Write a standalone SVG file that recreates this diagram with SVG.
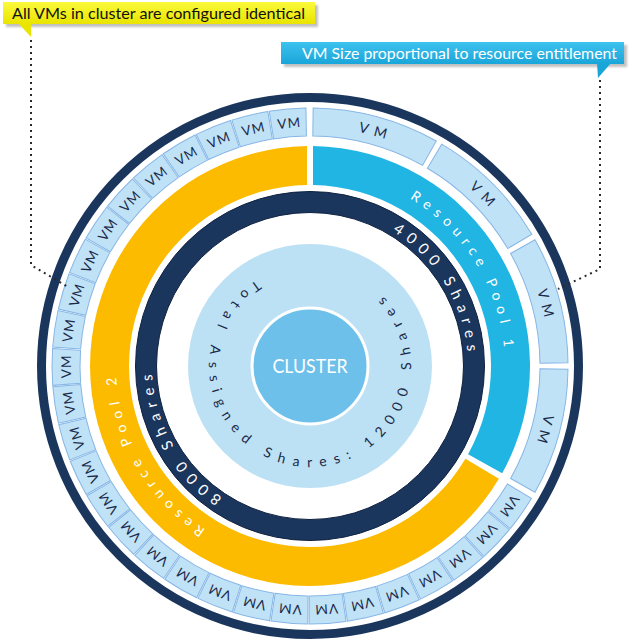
<svg xmlns="http://www.w3.org/2000/svg" xmlns:xlink="http://www.w3.org/1999/xlink" width="630" height="640" viewBox="0 0 630 640">
<style>
.ff{font-family:Lato,"Open Sans","Liberation Sans",sans-serif}
.vm{font-family:Lato,"Open Sans","Liberation Sans",sans-serif;font-size:13.5px;fill:#1b2a4a;text-anchor:middle;letter-spacing:1px}
.vmb{font-family:Lato,"Open Sans","Liberation Sans",sans-serif;font-size:14px;fill:#1b2a4a;text-anchor:middle;letter-spacing:6px}
.cell{fill:#c0e2f6;stroke:#86b6e6;stroke-width:1}
.arc{font-family:Lato,"Open Sans","Liberation Sans",sans-serif;fill:#ffffff;text-anchor:middle}
.dots{fill:none;stroke:#2a2a2a;stroke-width:2;stroke-dasharray:2 4;stroke-linecap:butt}
</style>
<defs>
<path id="cellS" d="M -18.45 -257.34 A 258 258 0 0 1 18.45 -257.34 L 16.45 -229.41 A 230 230 0 0 0 -16.45 -229.41 Z"/>
<path id="cellB" d="M -63.73 -250.01 A 258 258 0 0 1 63.73 -250.01 L 56.81 -222.87 A 230 230 0 0 0 -56.81 -222.87 Z"/>
<path id="p1" d="M -71.47 -181.43 A 195 195 0 0 1 129.21 146.05"/>
<path id="p2" d="M 64.76 182.87 A 194 194 0 0 1 -123.40 -149.69"/>
<path id="s1" d="M -55.98 -147.75 A 158 158 0 0 1 103.14 119.69"/>
<path id="s2" d="M 50.13 149.83 A 158 158 0 0 1 -98.36 -123.65"/>
<path id="tot" d="M -8.80 -100.62 A 101 101 0 1 0 26.14 -97.56"/>
<linearGradient id="gy" x1="0" y1="0" x2="0" y2="1"><stop offset="0" stop-color="#fbfa3c"/><stop offset="1" stop-color="#e9e400"/></linearGradient>
<linearGradient id="gb" x1="0" y1="0" x2="0" y2="1"><stop offset="0" stop-color="#3ec2ee"/><stop offset="1" stop-color="#1aa5d9"/></linearGradient>
<filter id="sh" x="-5%" y="-30%" width="115%" height="180%"><feGaussianBlur stdDeviation="1.2"/></filter>
</defs>
<rect width="630" height="640" fill="#ffffff"/>

<g transform="translate(310,366)">
  <g id="outer-ring"><circle r="268.5" fill="none" stroke="#1b365d" stroke-width="9"/></g>

  <g id="vm-big">
    <g id="vm-b1" transform="rotate(15)"><use xlink:href="#cellB" class="cell"/><text class="vmb" x="3" y="-239">VM</text></g>
    <g id="vm-b2" transform="rotate(45)"><use xlink:href="#cellB" class="cell"/><text class="vmb" x="3" y="-239">VM</text></g>
    <g id="vm-b3" transform="rotate(75)"><use xlink:href="#cellB" class="cell"/><text class="vmb" x="3" y="-239">VM</text></g>
    <g id="vm-b4" transform="rotate(105)"><use xlink:href="#cellB" class="cell"/><text class="vmb" x="3" y="-239">VM</text></g>
  </g>

  <g id="vm-small">
    <g id="vm-s1" transform="rotate(124.96)"><use xlink:href="#cellS" class="cell"/><text class="vm" x="0.5" y="-239">VM</text></g>
    <g id="vm-s2" transform="rotate(133.48)"><use xlink:href="#cellS" class="cell"/><text class="vm" x="0.5" y="-239">VM</text></g>
    <g id="vm-s3" transform="rotate(142.00)"><use xlink:href="#cellS" class="cell"/><text class="vm" x="0.5" y="-239">VM</text></g>
    <g id="vm-s4" transform="rotate(150.52)"><use xlink:href="#cellS" class="cell"/><text class="vm" x="0.5" y="-239">VM</text></g>
    <g id="vm-s5" transform="rotate(159.04)"><use xlink:href="#cellS" class="cell"/><text class="vm" x="0.5" y="-239">VM</text></g>
    <g id="vm-s6" transform="rotate(167.56)"><use xlink:href="#cellS" class="cell"/><text class="vm" x="0.5" y="-239">VM</text></g>
    <g id="vm-s7" transform="rotate(176.08)"><use xlink:href="#cellS" class="cell"/><text class="vm" x="0.5" y="-239">VM</text></g>
    <g id="vm-s8" transform="rotate(184.60)"><use xlink:href="#cellS" class="cell"/><text class="vm" x="0.5" y="-239">VM</text></g>
    <g id="vm-s9" transform="rotate(193.12)"><use xlink:href="#cellS" class="cell"/><text class="vm" x="0.5" y="-239">VM</text></g>
    <g id="vm-s10" transform="rotate(201.64)"><use xlink:href="#cellS" class="cell"/><text class="vm" x="0.5" y="-239">VM</text></g>
    <g id="vm-s11" transform="rotate(210.16)"><use xlink:href="#cellS" class="cell"/><text class="vm" x="0.5" y="-239">VM</text></g>
    <g id="vm-s12" transform="rotate(218.68)"><use xlink:href="#cellS" class="cell"/><text class="vm" x="0.5" y="-239">VM</text></g>
    <g id="vm-s13" transform="rotate(227.20)"><use xlink:href="#cellS" class="cell"/><text class="vm" x="0.5" y="-239">VM</text></g>
    <g id="vm-s14" transform="rotate(235.72)"><use xlink:href="#cellS" class="cell"/><text class="vm" x="0.5" y="-239">VM</text></g>
    <g id="vm-s15" transform="rotate(244.24)"><use xlink:href="#cellS" class="cell"/><text class="vm" x="0.5" y="-239">VM</text></g>
    <g id="vm-s16" transform="rotate(252.76)"><use xlink:href="#cellS" class="cell"/><text class="vm" x="0.5" y="-239">VM</text></g>
    <g id="vm-s17" transform="rotate(261.28)"><use xlink:href="#cellS" class="cell"/><text class="vm" x="0.5" y="-239">VM</text></g>
    <g id="vm-s18" transform="rotate(269.80)"><use xlink:href="#cellS" class="cell"/><text class="vm" x="0.5" y="-239">VM</text></g>
    <g id="vm-s19" transform="rotate(278.32)"><use xlink:href="#cellS" class="cell"/><text class="vm" x="0.5" y="-239">VM</text></g>
    <g id="vm-s20" transform="rotate(286.84)"><use xlink:href="#cellS" class="cell"/><text class="vm" x="0.5" y="-239">VM</text></g>
    <g id="vm-s21" transform="rotate(295.36)"><use xlink:href="#cellS" class="cell"/><text class="vm" x="0.5" y="-239">VM</text></g>
    <g id="vm-s22" transform="rotate(303.88)"><use xlink:href="#cellS" class="cell"/><text class="vm" x="0.5" y="-239">VM</text></g>
    <g id="vm-s23" transform="rotate(312.40)"><use xlink:href="#cellS" class="cell"/><text class="vm" x="0.5" y="-239">VM</text></g>
    <g id="vm-s24" transform="rotate(320.92)"><use xlink:href="#cellS" class="cell"/><text class="vm" x="0.5" y="-239">VM</text></g>
    <g id="vm-s25" transform="rotate(329.44)"><use xlink:href="#cellS" class="cell"/><text class="vm" x="0.5" y="-239">VM</text></g>
    <g id="vm-s26" transform="rotate(337.96)"><use xlink:href="#cellS" class="cell"/><text class="vm" x="0.5" y="-239">VM</text></g>
    <g id="vm-s27" transform="rotate(346.48)"><use xlink:href="#cellS" class="cell"/><text class="vm" x="0.5" y="-239">VM</text></g>
    <g id="vm-s28" transform="rotate(355.00)"><use xlink:href="#cellS" class="cell"/><text class="vm" x="0.5" y="-239">VM</text></g>
  </g>

  <g id="pool1">
    <path d="M 3 -219.98 A 220 220 0 0 1 192.15 107.16 L 158.08 88.16 A 181 181 0 0 0 3 -180.98 Z" fill="#20b5e3"/>
    <text class="arc" font-size="14" letter-spacing="6"><textPath xlink:href="#p1" startOffset="50%">Resource Pool 1</textPath></text>
  </g>
  <g id="pool2">
    <path d="M 188.91 112.79 A 220 220 0 1 1 -3 -219.98 L -3 -180.98 A 181 181 0 1 0 155.42 92.80 Z" fill="#fdbb00"/>
    <text class="arc" font-size="14" letter-spacing="6"><textPath xlink:href="#p2" startOffset="50%">Resource Pool 2</textPath></text>
  </g>

  <g id="shares-ring">
    <circle r="164" fill="none" stroke="#1b365d" stroke-width="21"/>
    <circle r="174.5" fill="none" stroke="#0f2140" stroke-width="1"/>
    <circle r="153.5" fill="none" stroke="#0f2140" stroke-width="1"/>
    <text class="arc" font-size="15" letter-spacing="6.5"><textPath xlink:href="#s1" startOffset="50%">4000 Shares</textPath></text>
    <text class="arc" font-size="15" letter-spacing="6.5"><textPath xlink:href="#s2" startOffset="50%">8000 Shares</textPath></text>
  </g>

  <g id="total">
    <circle r="122" fill="#bde1f4"/>
    <text class="ff" font-size="14" fill="#1b2a4a" text-anchor="middle" letter-spacing="8"><textPath xlink:href="#tot" startOffset="50%">Total Assigned Shares: 12000 Shares</textPath></text>
  </g>

  <g id="cluster">
    <circle r="58" fill="#6cc0ea" stroke="#ffffff" stroke-width="3"/>
    <text class="ff" x="0" y="7" font-size="20" fill="#ffffff" text-anchor="middle" textLength="75" lengthAdjust="spacingAndGlyphs">CLUSTER</text>
  </g>
</g>

<g id="connectors">
  <path class="dots" d="M31 40 V265 L68 287"/>
  <path class="dots" d="M600 80 V269 L558 289"/>
</g>

<g id="callout-identical">
  <rect x="6" y="5" width="312" height="22" fill="#999" opacity="0.6" filter="url(#sh)"/>
  <path d="M19 24 L31 24 L31 37 Z" fill="#e9e400"/>
  <rect x="3" y="2" width="312" height="22" fill="url(#gy)"/>
  <text class="ff" x="12" y="19" font-size="16" fill="#111" textLength="293" lengthAdjust="spacingAndGlyphs">All VMs in cluster are configured identical</text>
</g>

<g id="callout-size">
  <rect x="284" y="45" width="343" height="22" fill="#999" opacity="0.6" filter="url(#sh)"/>
  <path d="M597 63 L611 63 L598 78 Z" fill="#1aa5d9"/>
  <rect x="281" y="42" width="343" height="22" fill="url(#gb)"/>
  <text class="ff" x="302" y="59" font-size="16" fill="#ffffff" textLength="315" lengthAdjust="spacingAndGlyphs">VM Size proportional to resource entitlement</text>
</g>
</svg>
